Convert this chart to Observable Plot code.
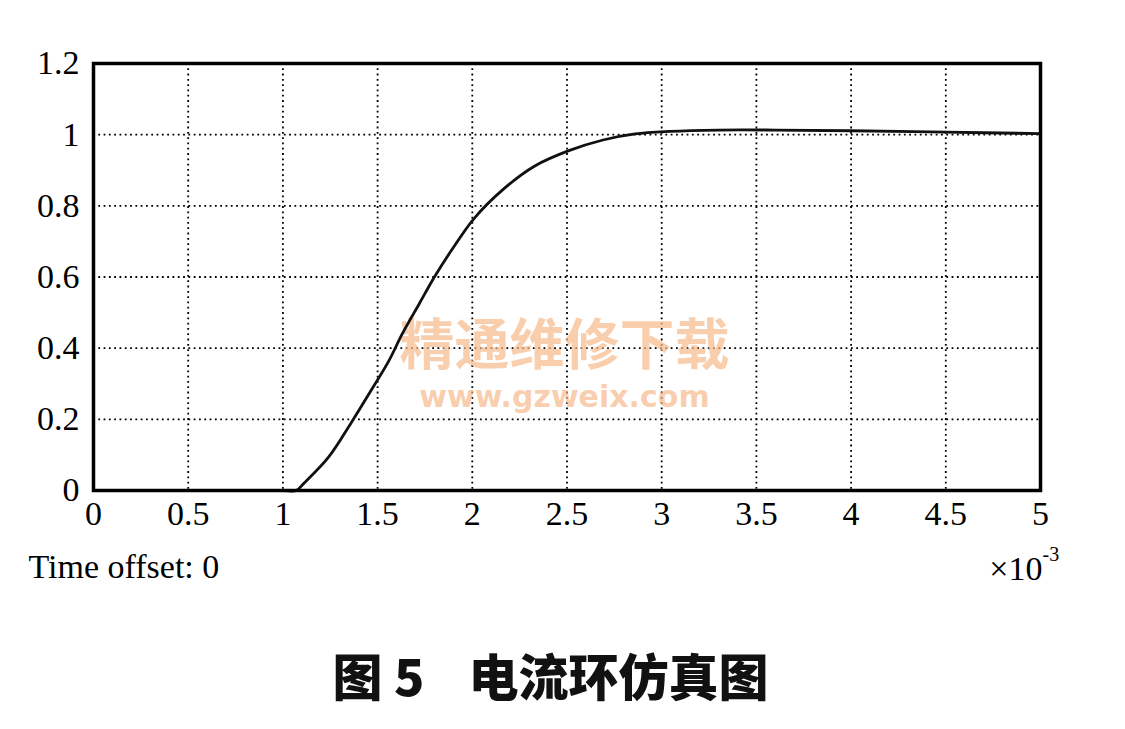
<!DOCTYPE html>
<html>
<head>
<meta charset="utf-8">
<script src="https://cdn.jsdelivr.net/npm/d3@7"></script>
<script src="https://cdn.jsdelivr.net/npm/@observablehq/plot@0.6"></script>
<style>
  html, body { margin: 0; padding: 0; background: #fff; }
  #chart { width: 1125px; }
  #title {
    width: 1125px; text-align: center; position: relative; left: -12px;
    font-family: "Noto Sans CJK SC", sans-serif; font-weight: 900;
    font-size: 50px; line-height: 56px; color: #111; margin-top: 16px;
  }
  #title .gap { display: inline-block; width: 44px; }
</style>
</head>
<body>
<div id="chart"></div>
<div id="title">图 5<span class="gap"></span>电流环仿真图</div>
<script>
// time (×10^-3 s) and current-loop response values
const times   = [0, 0.5, 1.0, 1.07, 1.11, 1.24, 1.36, 1.47, 1.56, 1.63, 1.72, 1.80, 1.89, 2.01, 2.16, 2.33, 2.51, 2.69, 2.86, 3.04, 3.30, 3.60, 4.00, 4.50, 5.00];
const current = [0, 0, 0, 0, 0.02, 0.093, 0.19, 0.285, 0.365, 0.44, 0.525, 0.60, 0.675, 0.765, 0.845, 0.912, 0.955, 0.985, 1.002, 1.009, 1.013, 1.013, 1.011, 1.007, 1.003];
const xTicks = [0, 0.5, 1, 1.5, 2, 2.5, 3, 3.5, 4, 4.5, 5];
const yTicks = [0, 0.2, 0.4, 0.6, 0.8, 1, 1.2];
const offsetLabel = "Time offset: 0";
const scaleBase = "×10";
const scaleExp = "-3";
const watermarkCN = "精通维修下载";
const watermarkURL = "www.gzweix.com";

const data = times.map((t, i) => ({t, v: current[i]}));

const chart = Plot.plot({
  width: 1125,
  height: 630,
  marginLeft: 93,
  marginRight: 85,
  marginTop: 63,
  marginBottom: 140,
  style: {fontFamily: "'Liberation Serif', 'Times New Roman', serif", fontSize: "34px", color: "#000", background: "#fff"},
  x: {domain: [0, 5], ticks: xTicks, tickFormat: d => String(d), label: null, tickSize: 0, tickPadding: 10},
  y: {domain: [0, 1.2], ticks: yTicks, tickFormat: d => String(d), label: null, tickSize: 0, tickPadding: 14},
  marks: [
    Plot.gridX(xTicks, {stroke: "#000", strokeOpacity: 1, strokeWidth: 1.8, strokeDasharray: "1.8,3.5"}),
    Plot.gridY(yTicks, {stroke: "#000", strokeOpacity: 1, strokeWidth: 1.8, strokeDasharray: "1.8,3.5"}),
    Plot.text([watermarkCN], {frameAnchor: "top-left", dx: 564 - 93, dy: 346 - 63, text: d => d, fill: "#f7b98a", fillOpacity: 0.7, fontSize: 55, fontWeight: "bold", fontFamily: "'Noto Sans CJK SC', sans-serif", textAnchor: "middle", lineAnchor: "middle"}),
    Plot.text([watermarkURL], {frameAnchor: "top-left", dx: 564 - 93, dy: 397 - 63, text: d => d, fill: "#f7b98a", fillOpacity: 0.7, fontSize: 30, fontWeight: "bold", fontFamily: "'DejaVu Sans', sans-serif", textAnchor: "middle", lineAnchor: "middle", letterSpacing: "3px"}),
    Plot.line(data, {x: "t", y: "v", curve: "catmull-rom", stroke: "#111", strokeWidth: 2.8}),
    Plot.frame({stroke: "#000", strokeWidth: 3.5}),
    Plot.text([offsetLabel], {frameAnchor: "bottom-left", dx: -65, dy: 77, text: d => d, textAnchor: "start", lineAnchor: "middle", fontSize: 34, fill: "#000"}),
    Plot.text([scaleBase], {frameAnchor: "bottom-right", dx: 2, dy: 79, text: d => d, textAnchor: "end", lineAnchor: "middle", fontSize: 34, fill: "#000"}),
    Plot.text([scaleExp], {frameAnchor: "bottom-right", dx: 2, dy: 64, text: d => d, textAnchor: "start", lineAnchor: "middle", fontSize: 20, fill: "#000"})
  ]
});
document.getElementById("chart").appendChild(chart);
</script>
</body>
</html>
